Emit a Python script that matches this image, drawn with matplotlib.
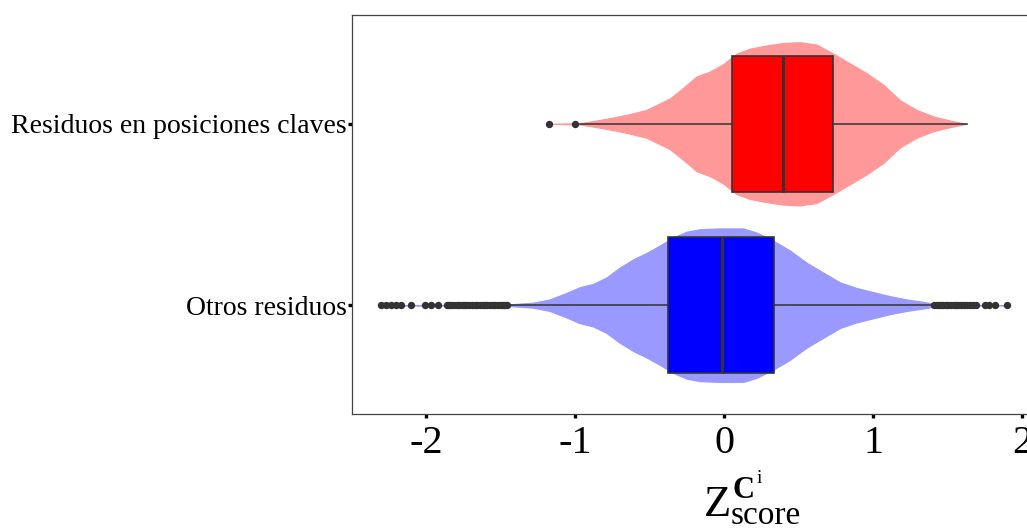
import matplotlib
matplotlib.use("Agg")
import matplotlib.pyplot as plt
import numpy as np

# ---------------- data ----------------
categories = ["Otros residuos", "Residuos en posiciones claves"]
box_colors = ["#0000FF", "#FF0000"]
violin_colors = ["#9999FF", "#FF9999"]

# box statistics: whislo, q1, median, q3, whishi
blue_stats = [-1.44, -0.38, -0.017, 0.334, 1.40]
red_stats = [-0.968, 0.05, 0.396, 0.732, 1.627]

blue_outliers = [-2.30, -2.266, -2.232, -2.199, -2.165, -2.103, -2.009, -1.964,
                 -1.919, -1.86, -1.845, -1.83, -1.81, -1.795, -1.78, -1.76,
                 -1.745, -1.73, -1.71, -1.69, -1.675, -1.66, -1.64, -1.62,
                 -1.605, -1.59, -1.57, -1.55, -1.535, -1.52, -1.50, -1.485,
                 -1.47, -1.455,
                 1.41, 1.425, 1.44, 1.455, 1.47, 1.49, 1.505, 1.52, 1.54,
                 1.555, 1.57, 1.59, 1.61, 1.63, 1.65, 1.67, 1.69,
                 1.75, 1.78, 1.82, 1.895]
red_outliers = [-1.174, -1.0]

# violin profiles: x position and relative density (1 = widest violin)
red_vx = [-1.174, -0.968, -0.857, -0.722, -0.633, -0.521, -0.454, -0.364,
          -0.275, -0.185, -0.096, -0.007, 0.083, 0.172, 0.285, 0.396, 0.508,
          0.620, 0.732, 0.844, 0.956, 1.067, 1.179, 1.291, 1.403, 1.515, 1.627]
red_vd = [0.0, 0.008, 0.04, 0.085, 0.12, 0.17, 0.23, 0.31,
          0.44, 0.58, 0.64, 0.73, 0.86, 0.92, 0.96, 0.99, 1.0,
          0.97, 0.86, 0.74, 0.62, 0.48, 0.29, 0.17, 0.09, 0.04, 0.0]

blue_vx = [-2.30, -1.80, -1.438, -1.282, -1.170, -1.058, -0.968, -0.879,
           -0.789, -0.700, -0.611, -0.521, -0.432, -0.342, -0.252, -0.163,
           -0.029, 0.038, 0.128, 0.217, 0.329, 0.441, 0.553, 0.664, 0.776,
           0.889, 1.0, 1.112, 1.224, 1.336, 1.403, 1.70, 1.895]
blue_vd = [0.0, 0.002, 0.01, 0.03, 0.07, 0.15, 0.22, 0.26,
           0.34, 0.46, 0.56, 0.64, 0.73, 0.83, 0.90, 0.93,
           0.94, 0.94, 0.94, 0.89, 0.79, 0.67, 0.52, 0.40, 0.28,
           0.21, 0.16, 0.11, 0.07, 0.04, 0.02, 0.003, 0.0]

x_ticks = [-2, -1, 0, 1, 2]
x_tick_labels = ["-2", "-1", "0", "1", "2"]

# axis label pieces: Z ^ C ^ i, subscript "score"
label_main = "Z"
label_sup = "C"
label_supsup = "i"
label_sub = "score"

# ---------------- plotting ----------------
plt.rcParams["font.family"] = ["Liberation Serif", "DejaVu Serif"]

W, H = 1027, 529
fig = plt.figure(figsize=(W / 100, H / 100), dpi=100)
ax = fig.add_axes([352 / W, 1 - 414 / H, 1 - 352 / W, (414 - 15) / H])

positions = [1, 2]
max_half = 0.45
profiles = [(blue_vx, blue_vd), (red_vx, red_vd)]
for pos, (vx, vd), vc in zip(positions, profiles, violin_colors):
    vx = np.asarray(vx)
    half = np.asarray(vd) * max_half
    ax.fill_between(vx, pos - half, pos + half, facecolor=vc, edgecolor=vc,
                    linewidth=0.9, zorder=1)

stats = []
for s, fl, lab in [(blue_stats, blue_outliers, categories[0]),
                   (red_stats, red_outliers, categories[1])]:
    stats.append(dict(whislo=s[0], q1=s[1], med=s[2], q3=s[3], whishi=s[4],
                      fliers=fl, label=lab))

bp = ax.bxp(stats, positions=positions, widths=0.75, orientation="horizontal",
            patch_artist=True, showcaps=False, manage_ticks=False,
            boxprops=dict(edgecolor="#333333", linewidth=1.2),
            medianprops=dict(color="#333333", linewidth=2.2),
            whiskerprops=dict(color="#333333", linewidth=1.1),
            flierprops=dict(marker="o", markersize=4.3, markerfacecolor="#333333",
                            markeredgecolor="#333333", linestyle="none"))
for patch, c in zip(bp["boxes"], box_colors):
    patch.set_facecolor(c)
    patch.set_zorder(2)
for k in ("medians", "whiskers", "fliers"):
    for a in bp[k]:
        a.set_zorder(3)

ax.set_xlim(-2.497, 2.032)
ax.set_ylim(0.4, 2.6)
ax.set_yticks(positions)
ax.set_yticklabels(categories, fontsize=20)
ax.set_xticks(x_ticks)
ax.set_xticklabels(x_tick_labels, fontsize=29)
ax.tick_params(axis="both", direction="out", length=3.0, width=2.4, color="black")
ax.tick_params(axis="y", pad=1)
ax.tick_params(axis="x", pad=5)

for side in ("left", "top", "bottom"):
    ax.spines[side].set_color("#444444")
    ax.spines[side].set_linewidth(0.9)
ax.spines["right"].set_visible(False)

# x-axis label composed of pieces (main, bold superscript, its superscript, subscript)
def px(x, y):
    return x / W, 1 - y / H

fig.text(*px(704, 516), label_main, fontsize=32, ha="left", va="baseline")
fig.text(*px(732, 498), label_sup, fontsize=22, fontweight="bold", ha="left", va="baseline")
fig.text(*px(757, 483), label_supsup, fontsize=14, ha="left", va="baseline")
fig.text(*px(731, 524), label_sub, fontsize=24, ha="left", va="baseline")

fig.savefig("out.png", dpi=100)
